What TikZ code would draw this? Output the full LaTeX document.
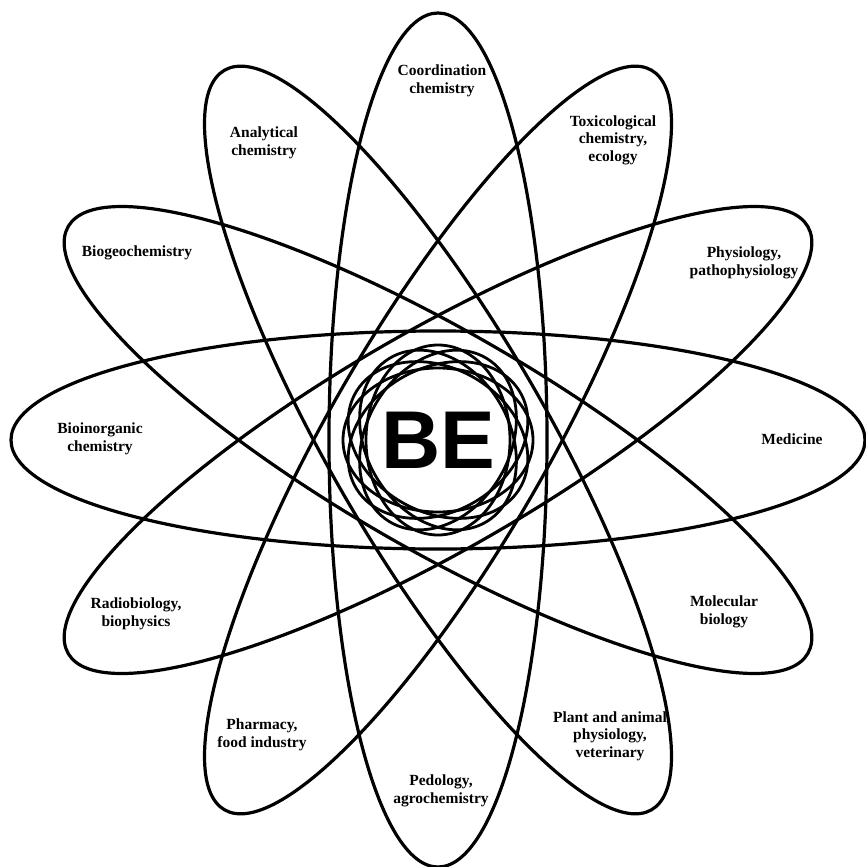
\documentclass[tikz,border=0pt]{standalone}
\usepackage{fontspec}
\setmainfont{Liberation Serif}
\newfontfamily\besans{Liberation Sans}

\begin{document}
\begin{tikzpicture}[x=1pt, y=-1pt,
  petal/.style={draw=black, line width=3.2pt},
  ring/.style={draw=black, line width=2.8pt},
  lbl/.style={font=\fontsize{15.5}{17.5}\selectfont\bfseries, align=center, inner sep=1pt}]
\useasboundingbox (0,0) rectangle (866,867);
\coordinate (c) at (438,440);

% six long petals
\foreach \a in {0,30,...,150}
  \draw[petal, rotate around={\a:(c)}] (c) ellipse [x radius=427pt, y radius=109pt];
% inner rosette
\foreach \a in {0,30,...,150}
  \draw[ring, rotate around={\a:(c)}] (c) ellipse [x radius=95pt, y radius=72pt];

\node[font=\besans\bfseries\fontsize{82}{82}\selectfont, inner sep=0pt] (be) at (c) {BE};

\node[lbl] (coord) at (442,81) {Coordination\\chemistry};
\node[lbl] (tox) at (613,140) {Toxicological\\chemistry,\\ecology};
\node[lbl] (phys) at (744,263) {Physiology,\\pathophysiology};
\node[lbl] (med) at (792,439) {Medicine};
\node[lbl] (mol) at (724,612) {Molecular\\biology};
\node[lbl] (plant) at (610,736) {Plant and animal\\physiology,\\veterinary};
\node[lbl] (ped) at (441,791) {Pedology,\\agrochemistry};
\node[lbl] (pharm) at (262,735) {Pharmacy,\\food industry};
\node[lbl] (radio) at (136,614) {Radiobiology,\\biophysics};
\node[lbl] (bioin) at (100,439) {Bioinorganic\\chemistry};
\node[lbl] (biogeo) at (137,253) {Biogeochemistry};
\node[lbl] (anal) at (264,143) {Analytical\\chemistry};
\end{tikzpicture}
\end{document}
